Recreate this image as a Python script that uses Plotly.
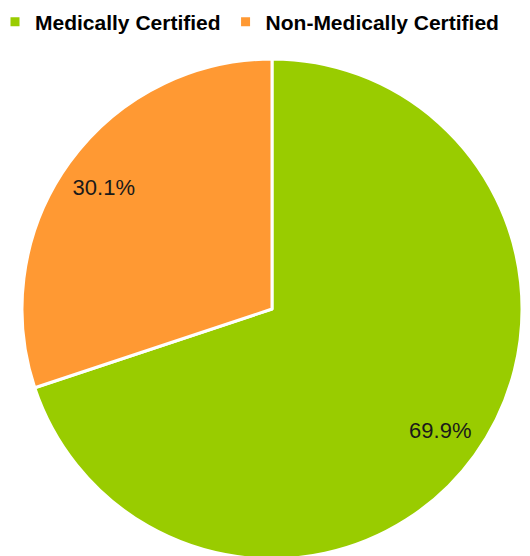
import plotly.graph_objects as go

labels = ["Medically Certified", "Non-Medically Certified"]
values = [69.9, 30.1]
colors = ["#99CC00", "#FF9933"]

FONT = "Arial, Liberation Sans, sans-serif"
W, H = 560, 552
dom = dict(x=[14 / W, 514 / W], y=[0, 1])

fig = go.Figure()
# filled pie (no text)
fig.add_trace(go.Pie(
    labels=labels, values=values, sort=False, direction="clockwise", rotation=0,
    marker=dict(colors=colors, line=dict(color="white", width=3)),
    textinfo="none", hoverinfo="label+percent", domain=dom,
))
# transparent ring carrying the percentage labels near the rim
fig.add_trace(go.Pie(
    labels=labels, values=values, sort=False, direction="clockwise", rotation=0,
    hole=0.66, showlegend=False, hoverinfo="skip",
    marker=dict(colors=["rgba(0,0,0,0)"] * len(values), line=dict(width=0)),
    texttemplate="%{value:.1f}%", textposition="inside",
    insidetextorientation="horizontal",
    textfont=dict(family=FONT, size=22, color="#1a1a1a"), domain=dom,
))

fig.update_layout(
    width=W, height=H,
    margin=dict(l=0, r=0, t=51, b=1, autoexpand=False),
    paper_bgcolor="white",
    showlegend=True,
    legend=dict(
        orientation="h", x=-13 / W, y=1.115, xref="paper", yref="paper",
        xanchor="left", yanchor="top",
        font=dict(family=FONT, size=21, color="#000000", weight="bold"),
    ),
)
fig.write_html("out.html")
